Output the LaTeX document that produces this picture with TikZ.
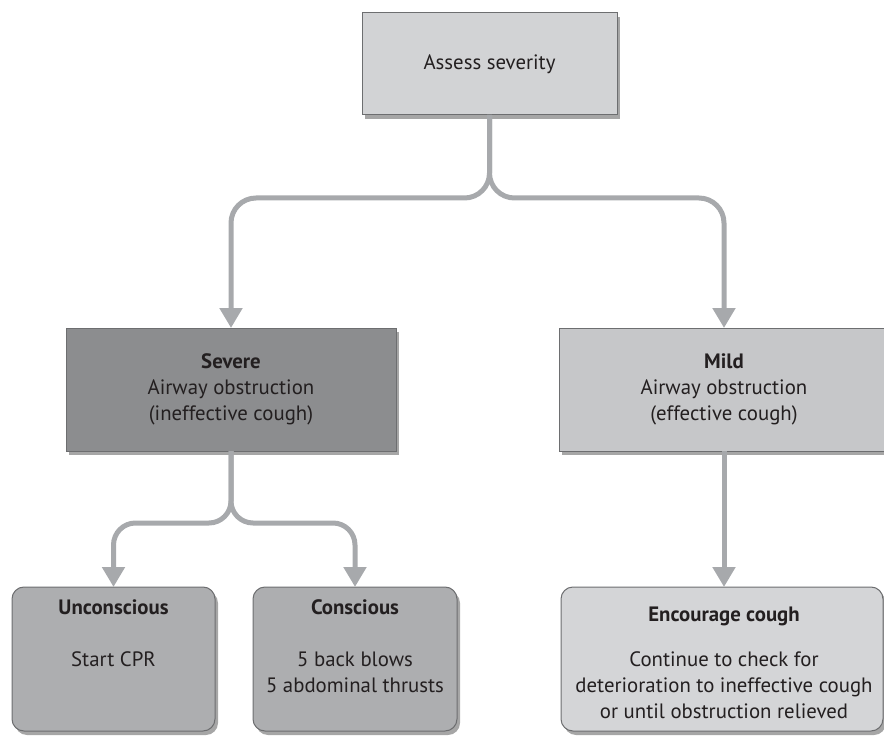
\documentclass[tikz,border=0pt]{standalone}
\usepackage{fontspec}
\setmainfont{PT Sans}
\usetikzlibrary{arrows.meta,shadows}
\definecolor{topfill}{HTML}{D2D3D5}
\definecolor{severefill}{HTML}{8C8D8F}
\definecolor{mildfill}{HTML}{C6C7C9}
\definecolor{midfill}{HTML}{ADAEB0}
\definecolor{encfill}{HTML}{D4D5D7}
\definecolor{boxline}{HTML}{6D6E70}
\definecolor{connline}{HTML}{A7A9AC}
\definecolor{ink}{HTML}{231F20}
\begin{document}
\begin{tikzpicture}[x=1pt,y=-1pt,
  box/.style={draw=boxline, line width=1pt, inner sep=0pt, outer sep=0pt,
    drop shadow={shadow xshift=3pt, shadow yshift=-4pt, fill=black, opacity=0.35}},
  rbox/.style={box, rounded corners=12pt},
  txt/.style={font=\fontsize{20.8}{26}\selectfont, text=ink, align=center, inner sep=0pt},
  conn/.style={draw=connline, line width=5pt},
  arr/.style={-{Triangle[width=22pt,length=20pt]}}
]
\useasboundingbox (0,0) rectangle (884,738);
% boxes
\node[box, fill=topfill, minimum width=255pt, minimum height=102pt] (top) at (489.5,64) {};
\node[box, fill=severefill, minimum width=330pt, minimum height=123pt] (severe) at (231,389.5) {};
\node[box, fill=mildfill, minimum width=330pt, minimum height=123pt] (mild) at (724,389.5) {};
\node[rbox, fill=midfill, minimum width=203pt, minimum height=144pt] (uncon) at (113.5,659) {};
\node[rbox, fill=midfill, minimum width=204pt, minimum height=144pt] (consc) at (355,659) {};
\node[rbox, fill=encfill, minimum width=322pt, minimum height=144pt] (enc) at (722,659) {};
% texts
\node[txt] (ttop) at (top.center) {Assess severity};
\node[txt] (tsev) at (severe.center) {\textbf{Severe}\\Airway obstruction\\(ineffective cough)};
\node[txt] (tmild) at (mild.center) {\textbf{Mild}\\Airway obstruction\\(effective cough)};
\node[txt] (tunc1) at (113.5,607) {\textbf{Unconscious}};
\node[txt] (tunc2) at (113.5,659) {Start CPR};
\node[txt] (tcon1) at (355,607) {\textbf{Conscious}};
\node[txt] (tcon2) at (355,672) {5 back blows\\5 abdominal thrusts};
\node[txt] (tenc1) at (724,616) {\textbf{Encourage cough}};
\node[txt] (tenc2) at (724,685) {Continue to check for\\deterioration to ineffective cough\\or until obstruction relieved};
% connectors
\coordinate (f1) at (489.5,198);
\coordinate (f2) at (231,523);
\draw[conn, arr, rounded corners=25pt] (top.south) |- (severe.north |- f1) -- (severe.north);
\draw[conn, arr, rounded corners=25pt] (top.south) |- (mild.north |- f1) -- (mild.north);
\draw[conn, arr, rounded corners=22pt] (severe.south) |- (uncon.north |- f2) -- (uncon.north);
\draw[conn, arr, rounded corners=22pt] (severe.south) |- (consc.north |- f2) -- (consc.north);
\draw[conn, arr] (mild.south) -- (mild.south |- enc.north);
\end{tikzpicture}
\end{document}
